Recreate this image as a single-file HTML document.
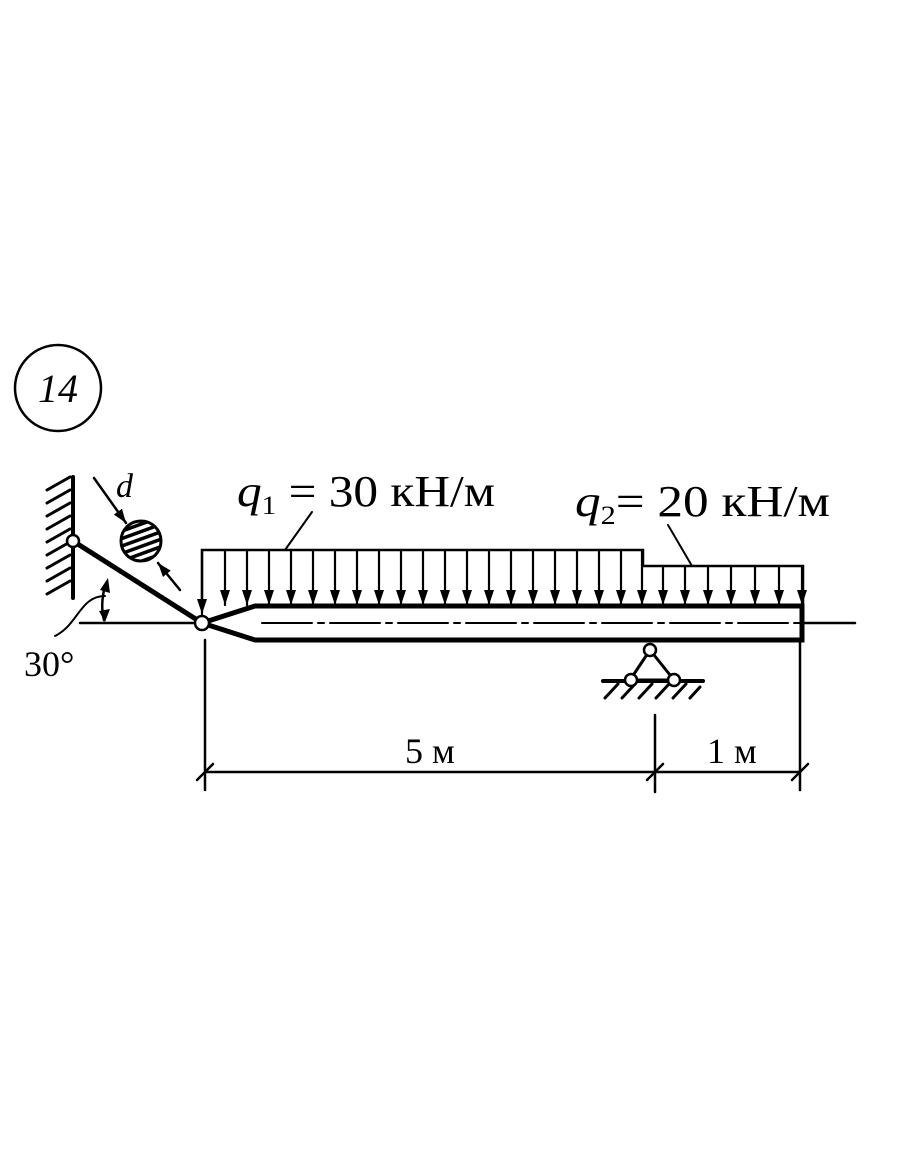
<!DOCTYPE html>
<html><head><meta charset="utf-8"><style>body{margin:0;background:#fff}svg{display:block}</style></head>
<body>
<svg width="910" height="1155" viewBox="0 0 910 1155" xmlns="http://www.w3.org/2000/svg">
<defs>
<marker id="a" viewBox="0 0 15 10" refX="15" refY="5" markerWidth="15" markerHeight="10" orient="auto" markerUnits="userSpaceOnUse"><path d="M0,0 L15,5 L0,10 Z" fill="#000"/></marker>
<marker id="b" viewBox="0 0 14 10" refX="14" refY="5" markerWidth="14" markerHeight="10" orient="auto" markerUnits="userSpaceOnUse"><path d="M0,0 L14,5 L0,10 Z" fill="#000"/></marker>
<pattern id="h" width="7" height="7" patternUnits="userSpaceOnUse" patternTransform="rotate(-20)"><rect width="7" height="3.5" fill="#000"/></pattern>
</defs>
<g stroke="#000" fill="none" stroke-linecap="round">
<circle cx="58" cy="388" r="43" stroke-width="2.5"/>
<line x1="73" y1="477" x2="73" y2="598" stroke-width="4"/>
<g stroke-width="3">
<line x1="47" y1="490" x2="70" y2="477"/><line x1="47" y1="503" x2="70" y2="490"/><line x1="47" y1="516" x2="70" y2="503"/><line x1="47" y1="529" x2="70" y2="516"/><line x1="47" y1="542" x2="70" y2="529"/><line x1="47" y1="555" x2="70" y2="542"/><line x1="47" y1="568" x2="70" y2="555"/><line x1="47" y1="581" x2="70" y2="568"/><line x1="47" y1="594" x2="70" y2="581"/>
</g>
<line x1="73" y1="541" x2="202" y2="623" stroke-width="5"/>
<circle cx="73" cy="541" r="6" fill="#fff" stroke-width="2.5"/>
<circle cx="141" cy="541" r="20" fill="url(#h)" stroke-width="3"/>
<line x1="94" y1="478" x2="126" y2="523" stroke-width="2.5" marker-end="url(#b)"/>
<line x1="180" y1="590" x2="158" y2="563" stroke-width="2.5" marker-end="url(#b)"/>
<line x1="80" y1="623" x2="855" y2="623" stroke-width="2.5"/>
<path d="M105,586 Q100,605 104,620" stroke-width="2.5"/>
<path d="M100,590 L108,578 L110,593Z M99,611 L105,622 L110,609Z" fill="#000" stroke="none"/>
<path d="M105,596 C80,596 78,625 55,636" stroke-width="2"/>
<path d="M202,623 L255,606 L802,606 L802,640 L255,640 Z" fill="#fff" stroke-width="5" stroke-linejoin="miter"/>
<line x1="262" y1="623" x2="800" y2="623" stroke-width="2" stroke-dasharray="50 6 6 6"/>
<circle cx="202" cy="623" r="7" fill="#fff" stroke-width="2.5"/>
<polyline points="202,602 202,550 643,550 643,566 803,566 803,604" stroke-width="2.5"/>
<g stroke-width="2.2">
<line x1="225" y1="550" x2="225" y2="605" marker-end="url(#a)"/><line x1="247" y1="550" x2="247" y2="605" marker-end="url(#a)"/><line x1="269" y1="550" x2="269" y2="605" marker-end="url(#a)"/><line x1="291" y1="550" x2="291" y2="605" marker-end="url(#a)"/><line x1="313" y1="550" x2="313" y2="605" marker-end="url(#a)"/><line x1="335" y1="550" x2="335" y2="605" marker-end="url(#a)"/><line x1="357" y1="550" x2="357" y2="605" marker-end="url(#a)"/><line x1="379" y1="550" x2="379" y2="605" marker-end="url(#a)"/><line x1="401" y1="550" x2="401" y2="605" marker-end="url(#a)"/><line x1="423" y1="550" x2="423" y2="605" marker-end="url(#a)"/><line x1="445" y1="550" x2="445" y2="605" marker-end="url(#a)"/><line x1="467" y1="550" x2="467" y2="605" marker-end="url(#a)"/><line x1="489" y1="550" x2="489" y2="605" marker-end="url(#a)"/><line x1="511" y1="550" x2="511" y2="605" marker-end="url(#a)"/><line x1="533" y1="550" x2="533" y2="605" marker-end="url(#a)"/><line x1="555" y1="550" x2="555" y2="605" marker-end="url(#a)"/><line x1="577" y1="550" x2="577" y2="605" marker-end="url(#a)"/><line x1="599" y1="550" x2="599" y2="605" marker-end="url(#a)"/><line x1="621" y1="550" x2="621" y2="605" marker-end="url(#a)"/><line x1="642" y1="550" x2="642" y2="605" marker-end="url(#a)"/>
<line x1="202" y1="550" x2="202" y2="614" marker-end="url(#a)"/>
<line x1="663" y1="566" x2="663" y2="605" marker-end="url(#a)"/><line x1="685" y1="566" x2="685" y2="605" marker-end="url(#a)"/><line x1="708" y1="566" x2="708" y2="605" marker-end="url(#a)"/><line x1="731" y1="566" x2="731" y2="605" marker-end="url(#a)"/><line x1="755" y1="566" x2="755" y2="605" marker-end="url(#a)"/><line x1="779" y1="566" x2="779" y2="605" marker-end="url(#a)"/><line x1="802" y1="566" x2="802" y2="605" marker-end="url(#a)"/>
</g>
<line x1="312" y1="512" x2="285" y2="550" stroke-width="2"/>
<line x1="668" y1="525" x2="692" y2="566" stroke-width="2"/>
<path d="M650,650 L630,680 L674,680 Z" stroke-width="3"/>
<line x1="603" y1="681" x2="703" y2="681" stroke-width="4"/>
<g stroke-width="3"><line x1="605" y1="698" x2="618" y2="684"/><line x1="622" y1="698" x2="635" y2="684"/><line x1="639" y1="698" x2="652" y2="684"/><line x1="656" y1="698" x2="669" y2="684"/><line x1="673" y1="698" x2="686" y2="684"/><line x1="690" y1="698" x2="700" y2="687"/></g>
<circle cx="650" cy="650" r="6" fill="#fff" stroke-width="2.5"/>
<circle cx="631" cy="680" r="6" fill="#fff" stroke-width="2.5"/>
<circle cx="674" cy="680" r="6" fill="#fff" stroke-width="2.5"/>
<g stroke-width="2.5">
<line x1="205" y1="640" x2="205" y2="790"/><line x1="655" y1="715" x2="655" y2="792"/><line x1="800" y1="640" x2="800" y2="790"/>
<line x1="205" y1="772" x2="800" y2="772"/>
<line x1="197" y1="780" x2="213" y2="764"/><line x1="647" y1="780" x2="663" y2="764"/><line x1="792" y1="780" x2="808" y2="764"/>
</g>
</g>
<g font-family="Liberation Serif, serif" fill="#000">
<text x="58" y="402" font-size="40" font-style="italic" text-anchor="middle">14</text>
<text x="116" y="497" font-size="34" font-style="italic">d</text>
<text x="24" y="676" font-size="36">30°</text>
<text x="237" y="506" font-size="44" textLength="258" lengthAdjust="spacingAndGlyphs"><tspan font-style="italic">q</tspan><tspan font-size="26" dy="8">1</tspan><tspan dy="-8"> = 30 кН/м</tspan></text>
<text x="575" y="516" font-size="44" textLength="255" lengthAdjust="spacingAndGlyphs"><tspan font-style="italic">q</tspan><tspan font-size="26" dy="8">2</tspan><tspan dy="-8">= 20 кН/м</tspan></text>
<text x="405" y="763" font-size="36">5 м</text>
<text x="707" y="763" font-size="36">1 м</text>
</g>
</svg>
</body></html>
